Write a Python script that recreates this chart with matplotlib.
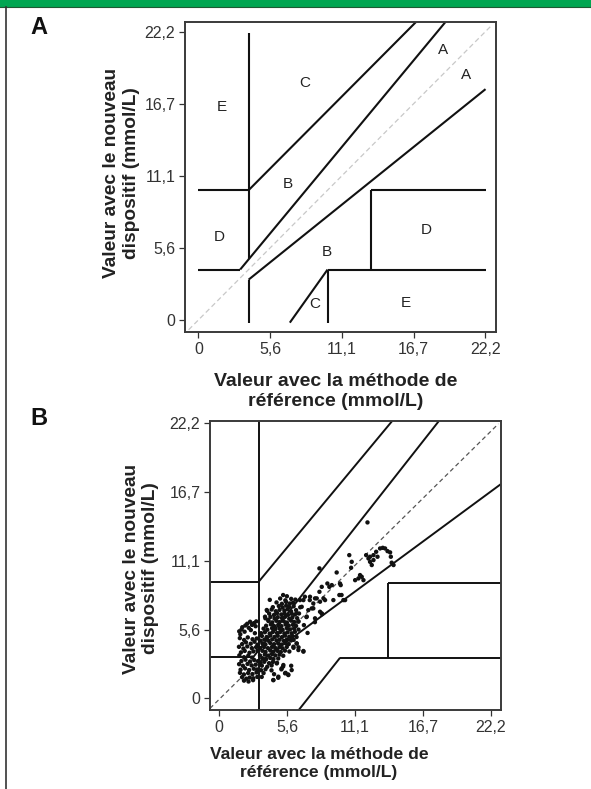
import matplotlib.pyplot as plt
from matplotlib.patches import Rectangle
from matplotlib.lines import Line2D

plt.rcParams['font.family'] = ['Liberation Sans', 'DejaVu Sans']

W, H = 591, 789

# axis ticks (mmol/L, i.e. 0-400 mg/dL)
tick_pos = [0, 5.55, 11.1, 16.65, 22.2]
tick_labels = ['0', '5,6', '11,1', '16,7', '22,2']

# panel A - Clarke error grid boundaries
a_lines = [
    ([0, 3.24], [3.89, 3.89]),
    ([3.24, 19.12], [3.89, 22.95]),
    ([3.89, 3.89], [4.67, 22.1]),
    ([0, 3.89], [10.0, 10.0]),
    ([3.89, 16.84], [10.0, 22.95]),
    ([3.89, 3.89], [-0.2, 3.11]),
    ([3.89, 22.22], [3.11, 17.78]),
    ([10.0, 10.0], [-0.2, 3.89]),
    ([10.0, 22.22], [3.89, 3.89]),
    ([13.33, 13.33], [3.89, 10.0]),
    ([13.33, 22.22], [10.0, 10.0]),
    ([7.08, 10.0], [-0.2, 3.89]),
]
a_zone = ['E', 'C', 'A', 'A', 'B', 'D', 'B', 'D', 'C', 'E']
a_zx = [1.81, 8.25, 18.95, 20.7, 6.96, 1.62, 9.93, 17.66, 9.03, 16.06]
a_zy = [16.4, 18.25, 20.8, 18.9, 10.44, 6.4, 5.25, 6.92, 1.23, 1.28]

# panel B - grid as drawn in the figure
b_lines = [
    ([3.22, 3.22], [-1.0, 22.5]),
    ([-1.0, 3.22], [9.41, 9.41]),
    ([3.22, 14.16], [9.41, 22.41]),
    ([-1.0, 2.8], [3.36, 3.36]),
    ([2.8, 17.98], [3.36, 22.41]),
    ([3.22, 23.04], [2.89, 17.3]),
    ([6.45, 9.88], [-1.0, 3.28]),
    ([9.88, 23.1], [3.28, 3.28]),
    ([13.83, 13.83], [3.28, 9.33]),
    ([13.83, 23.1], [9.33, 9.33]),
]

left_pts = [
    (2.28, 6.02), (2.52, 6.18), (2.83, 6.07), (3.02, 6.21),
    (1.88, 5.74), (2.13, 5.88), (2.41, 5.69), (2.68, 5.93), (2.97, 5.82),
    (1.63, 5.41), (1.82, 5.56), (2.07, 5.38), (2.58, 5.51),
    (1.72, 5.17), (2.91, 5.26),
    (1.68, 4.86), (2.03, 4.71), (2.33, 4.92), (2.72, 4.77), (3.06, 4.83),
    (1.87, 4.38), (2.18, 4.52), (2.57, 4.41), (2.88, 4.57), (3.12, 4.33),
    (1.61, 4.16), (1.97, 4.02), (2.29, 4.19), (2.66, 4.05), (3.01, 4.13),
    (1.77, 3.71), (2.08, 3.83), (2.47, 3.68), (2.79, 3.79), (3.13, 3.86),
    (1.64, 3.47), (2.02, 3.32), (2.37, 3.44), (2.69, 3.29),
    (1.81, 3.01), (2.14, 3.12), (2.52, 2.97), (2.86, 3.09), (3.16, 3.00),
    (1.62, 2.76), (1.93, 2.63), (2.31, 2.78), (2.64, 2.66), (2.98, 2.72),
    (1.74, 2.31), (2.11, 2.42), (2.44, 2.28), (2.82, 2.39), (3.09, 2.33),
    (1.69, 2.06), (2.01, 1.93), (2.36, 2.04), (2.71, 1.96), (3.04, 2.09),
    (1.86, 1.71), (2.21, 1.59), (2.49, 1.68), (2.78, 1.62), (3.11, 1.73),
    (2.02, 1.43), (2.39, 1.36), (2.76, 1.47),
]

core_pts = [
    (5.22, 8.34), (5.53, 8.24),
    (4.13, 7.95), (4.98, 8.06), (5.40, 7.91), (5.88, 8.03), (6.22, 7.97),
    (4.68, 7.74), (5.12, 7.63), (5.47, 7.78), (5.77, 7.66), (6.03, 7.72),
    (4.38, 7.36), (4.87, 7.45), (5.18, 7.33), (5.47, 7.48), (5.72, 7.38),
    (6.08, 7.43), (6.62, 7.35),
    (3.92, 7.06), (4.28, 7.17), (4.62, 7.03), (4.93, 7.14), (5.32, 7.08),
    (5.58, 7.19), (5.87, 7.02), (6.28, 7.12),
    (4.08, 6.84), (4.47, 6.73), (4.73, 6.87), (5.07, 6.77), (5.33, 6.86),
    (5.62, 6.74), (5.92, 6.83), (6.18, 6.76), (6.52, 6.85),
    (3.77, 6.46), (4.18, 6.57), (4.52, 6.44), (4.78, 6.55), (5.12, 6.48),
    (5.38, 6.58), (5.72, 6.43), (5.98, 6.53), (6.37, 6.47), (7.13, 6.56),
    (4.02, 6.24), (4.33, 6.13), (4.67, 6.26), (4.93, 6.16), (5.27, 6.23),
    (5.53, 6.12), (5.87, 6.27), (6.13, 6.17), (6.47, 6.22), (7.82, 6.15),
    (3.83, 5.86), (4.22, 5.97), (4.48, 5.84), (4.82, 5.93), (5.08, 5.83),
    (5.42, 5.96), (5.68, 5.87), (6.02, 5.94), (6.28, 5.85), (6.92, 5.91),
    (3.62, 5.63), (3.93, 5.54), (4.32, 5.66), (4.58, 5.57), (4.92, 5.64),
    (5.18, 5.53), (5.52, 5.67), (5.78, 5.56), (6.12, 5.62), (6.48, 5.55),
    (3.42, 5.26), (3.73, 5.34), (4.12, 5.23), (4.38, 5.36), (4.72, 5.27),
    (4.98, 5.35), (5.32, 5.24), (5.58, 5.33), (5.92, 5.25), (6.18, 5.37),
    (7.22, 5.28),
    (3.48, 5.04), (3.87, 4.95), (4.18, 5.07), (4.52, 4.96), (4.78, 5.05),
    (5.12, 4.94), (5.38, 5.06), (5.72, 4.97), (5.98, 5.03), (6.32, 4.95),
    (3.37, 4.66), (3.68, 4.74), (4.02, 4.65), (4.33, 4.76), (4.67, 4.68),
    (4.93, 4.73), (5.27, 4.64), (5.53, 4.75), (5.87, 4.67), (6.08, 4.72),
    (3.52, 4.44), (3.78, 4.35), (4.17, 4.46), (4.48, 4.37), (4.82, 4.43),
    (5.08, 4.34), (5.42, 4.45), (5.68, 4.38), (6.33, 4.42),
    (3.33, 4.06), (3.67, 4.14), (3.98, 4.05), (4.32, 4.16), (4.58, 4.07),
    (4.92, 4.13), (5.18, 4.04), (5.52, 4.15), (6.07, 4.08), (6.48, 4.12),
    (3.52, 3.84), (3.78, 3.75), (4.17, 3.86), (4.43, 3.77), (4.77, 3.83),
    (5.03, 3.74), (5.37, 3.85), (5.73, 3.78), (6.88, 3.82),
    (3.33, 3.46), (3.72, 3.54), (3.98, 3.45), (4.32, 3.56), (4.58, 3.47),
    (4.92, 3.53), (5.23, 3.44),
    (3.52, 3.24), (3.83, 3.15), (4.17, 3.26), (4.43, 3.17), (4.82, 3.22),
    (3.37, 2.86), (3.68, 2.95), (4.07, 2.84), (4.38, 2.94), (4.72, 2.87),
    (3.48, 2.64), (3.92, 2.55), (4.28, 2.66), (5.22, 2.57), (5.88, 2.63),
    (3.42, 2.27), (3.78, 2.35), (4.27, 2.26), (5.08, 2.34),
    (3.62, 2.04), (4.48, 1.95), (5.42, 2.06), (5.63, 1.93),
    (3.47, 1.73), (4.82, 1.66),
    (4.42, 1.47),
]

right_pts = [
    (6.60, 7.93), (7.00, 8.20), (7.40, 7.93), (7.83, 8.07), (8.24, 7.80),
    (6.74, 7.39), (7.28, 7.12), (7.69, 7.26), (6.33, 6.87), (7.15, 6.60),
    (7.83, 6.46), (6.47, 6.19), (6.88, 7.93), (7.42, 8.20), (7.69, 7.66),
    (7.56, 7.26), (8.24, 6.99), (8.19, 8.60), (8.52, 8.07), (8.65, 7.93),
    (7.97, 8.07), (8.40, 6.80), (8.38, 6.86),
    (8.84, 9.27), (9.00, 9.00), (9.20, 9.14), (8.38, 9.00), (9.87, 9.27),
    (9.93, 9.14), (9.82, 8.34), (9.33, 7.93), (10.00, 8.34), (10.15, 7.93),
    (10.29, 7.93), (8.19, 10.49), (9.60, 10.16),
    (11.51, 9.95), (11.38, 9.68), (11.65, 9.81), (11.79, 9.54), (11.11, 9.54),
    (10.63, 11.56), (10.83, 11.02), (10.78, 10.54),
    (12.12, 14.20),
    (12.01, 11.56), (12.20, 11.29), (12.33, 11.02), (12.47, 10.76),
    (12.61, 11.56), (12.83, 11.83), (12.94, 11.43), (13.15, 12.10),
    (13.37, 12.15), (13.56, 12.10), (13.76, 11.88), (13.97, 11.78),
    (14.03, 11.43), (12.61, 11.16), (12.33, 11.43), (14.25, 10.76),
    (14.10, 10.95),
    (6.06, 4.17), (6.47, 3.90), (6.88, 3.77), (6.33, 4.44),
    (4.70, 2.82), (5.10, 2.42), (5.38, 2.02), (5.65, 1.88), (4.42, 1.48),
    (4.83, 1.75), (5.92, 2.28), (5.24, 2.69),
    (3.88, 7.13), (3.74, 6.59), (4.01, 6.32),
]

all_pts = left_pts + core_pts + right_pts
ref_vals = [p[0] for p in all_pts]
dev_vals = [p[1] for p in all_pts]

fig = plt.figure(figsize=(W / 100, H / 100), dpi=100)

# page decoration: green band and left rule
fig.patches.append(Rectangle((0, 1 - 7 / H), 1, 7 / H, transform=fig.transFigure,
                             facecolor='#00a651', edgecolor='none'))
fig.lines.append(Line2D([0, 1], [1 - 7 / H, 1 - 7 / H], transform=fig.transFigure,
                        color='#1d5a32', lw=0.8))
fig.lines.append(Line2D([6 / W, 6 / W], [0, 1 - 7 / H], transform=fig.transFigure,
                        color='#333333', lw=1.2))


def style_axes(ax):
    ax.set_xticks(tick_pos)
    ax.set_xticklabels(tick_labels)
    ax.set_yticks(tick_pos)
    ax.set_yticklabels(tick_labels)
    ax.tick_params(direction='out', length=4.5, width=0.9, colors='#333333',
                   labelsize=11.5, pad=2.5)
    for s in ax.spines.values():
        s.set_linewidth(1.4)
        s.set_color('#3a3a3a')


# ---- panel A
axA = fig.add_axes([185 / W, 1 - 332 / H, 311 / W, 310 / H])
axA.plot([-0.75, 22.75], [-0.75, 22.75], color='#c8c8c8', lw=0.9, ls=(0, (4, 2.5)))
for xs, ys in a_lines:
    axA.plot(xs, ys, color='#111111', lw=1.5, solid_capstyle='butt')
for lab, x, y in zip(a_zone, a_zx, a_zy):
    axA.text(x, y, lab, ha='center', va='center', fontsize=11, color='#222222')
axA.set_xlim(-1.03, 23.03)
axA.set_ylim(-0.92, 22.95)
style_axes(axA)

# ---- panel B
axB = fig.add_axes([210 / W, 1 - 710 / H, 291 / W, 289.3 / H])
axB.plot([-0.76, 22.83], [-0.81, 22.16], color='#555555', lw=0.9, ls=(0, (3.5, 2.5)))
for xs, ys in b_lines:
    axB.plot(xs, ys, color='#111111', lw=1.4, solid_capstyle='butt')
axB.scatter(ref_vals, dev_vals, s=10, color='#111111', edgecolors='none', zorder=3)
axB.set_xlim(-0.76, 23.04)
axB.set_ylim(-0.94, 22.41)
style_axes(axB)

# labels
ylab = 'Valeur avec le nouveau\ndispositif (mmol/L)'
xlab = 'Valeur avec la méthode de\nréférence (mmol/L)'
fig.text(121.5 / W, 1 - 173 / H, ylab, rotation=90, ha='center', va='center',
         fontsize=13.8, weight='bold', color='#222222', linespacing=1.2)
fig.text(336 / W, 1 - 391.5 / H, xlab, ha='center', va='center',
         fontsize=14, weight='bold', color='#222222', linespacing=1.18)
fig.text(140.8 / W, 1 - 568.5 / H, ylab, rotation=90, ha='center', va='center',
         fontsize=13.8, weight='bold', color='#222222', linespacing=1.2)
fig.text(319 / W, 1 - 763.5 / H, xlab, ha='center', va='center',
         fontsize=12.6, weight='bold', color='#222222', linespacing=1.3)

fig.text(30 / W, 1 - 27.5 / H, 'A', ha='left', va='center', fontsize=17,
         weight='bold', color='#111111')
fig.text(30.7 / W, 1 - 419 / H, 'B', ha='left', va='center', fontsize=17,
         weight='bold', color='#111111')

fig.savefig('out.png', dpi=100)
